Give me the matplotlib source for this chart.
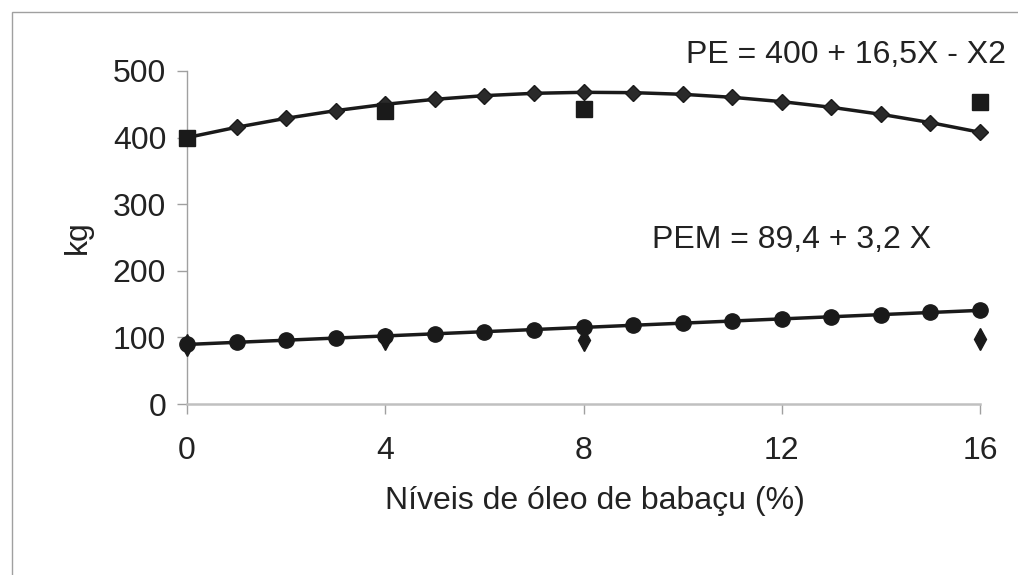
import matplotlib
matplotlib.use("Agg")
import matplotlib.pyplot as plt
from matplotlib.patches import Rectangle

plt.rcParams['font.family'] = ['Liberation Sans', 'DejaVu Sans']

x_fit = [0, 1, 2, 3, 4, 5, 6, 7, 8, 9, 10, 11, 12, 13, 14, 15, 16]
pe_fit = [400, 415.5, 429, 440.5, 450, 457.5, 463, 466.5, 468, 467.5, 465,
          460.5, 454, 445.5, 435, 422.5, 408]
pem_fit = [89.4, 92.6, 95.8, 99, 102.2, 105.4, 108.6, 111.8, 115, 118.2,
           121.4, 124.6, 127.8, 131, 134.2, 137.4, 140.6]

x_obs = [0, 4, 8, 16]
pe_obs = [400, 440, 443, 453]
pem_obs = [89, 97, 96, 98]

xticks = [0, 4, 8, 12, 16]
yticks = [0, 100, 200, 300, 400, 500]

W, H = 1018, 575
FS = 23
fig = plt.figure(figsize=(W / 100, H / 100), dpi=100)
ax = fig.add_axes([187 / W, 1 - 404 / H, (980 - 187) / W, (404 - 71) / H])

# outer frame (top and left visible)
fig.patches.append(Rectangle((12 / W, -0.1), 1.2, 1 - 12 / H + 0.1,
                             transform=fig.transFigure, fill=False,
                             edgecolor='#a0a0a0', linewidth=1.0))

ax.plot(x_obs, pem_obs, linestyle='none', marker='d', markersize=11,
        color='#1a1a1a', clip_on=False, zorder=3)
ax.plot(x_fit, pem_fit, color='#1a1a1a', linewidth=2.5, marker='o',
        markersize=11, clip_on=False, zorder=4)
ax.plot(x_fit, pe_fit, color='#1a1a1a', linewidth=2.5, marker='D',
        markersize=8.5, markerfacecolor='#2a2a2a', markeredgecolor='#1a1a1a',
        clip_on=False, zorder=4)
ax.plot(x_obs, pe_obs, linestyle='none', marker='s', markersize=11,
        color='#1a1a1a', clip_on=False, zorder=5)

ax.set_xlim(0, 16)
ax.set_ylim(0, 500)
ax.set_xticks(xticks)
ax.set_yticks(yticks)
ax.set_xticklabels([str(v) for v in xticks])
ax.set_yticklabels([str(v) for v in yticks])

for s in ['top', 'right']:
    ax.spines[s].set_visible(False)
for s in ['left', 'bottom']:
    ax.spines[s].set_color('#a0a0a0')
    ax.spines[s].set_linewidth(1.0)
ax.spines['bottom'].set_linewidth(1.8)
ax.spines['bottom'].set_color('#c0c0c0')

ax.tick_params(axis='both', colors='#a0a0a0', labelcolor='#222222',
               labelsize=FS, length=7, width=1.0)
ax.tick_params(axis='x', pad=16)
ax.tick_params(axis='y', pad=8)

ax.set_xlabel('Níveis de óleo de babaçu (%)', fontsize=FS, color='#222222',
              labelpad=18)
ax.xaxis.set_label_coords(0.515, -0.245)
ax.set_ylabel('kg', fontsize=FS, color='#222222', labelpad=14)

fig.text(686 / W, 1 - 55 / H, 'PE = 400 + 16,5X - X2', fontsize=FS,
         color='#222222', ha='left', va='center')
fig.text(652 / W, 1 - 240 / H, 'PEM = 89,4 + 3,2 X', fontsize=FS,
         color='#222222', ha='left', va='center')

fig.savefig('out.png', dpi=100)
